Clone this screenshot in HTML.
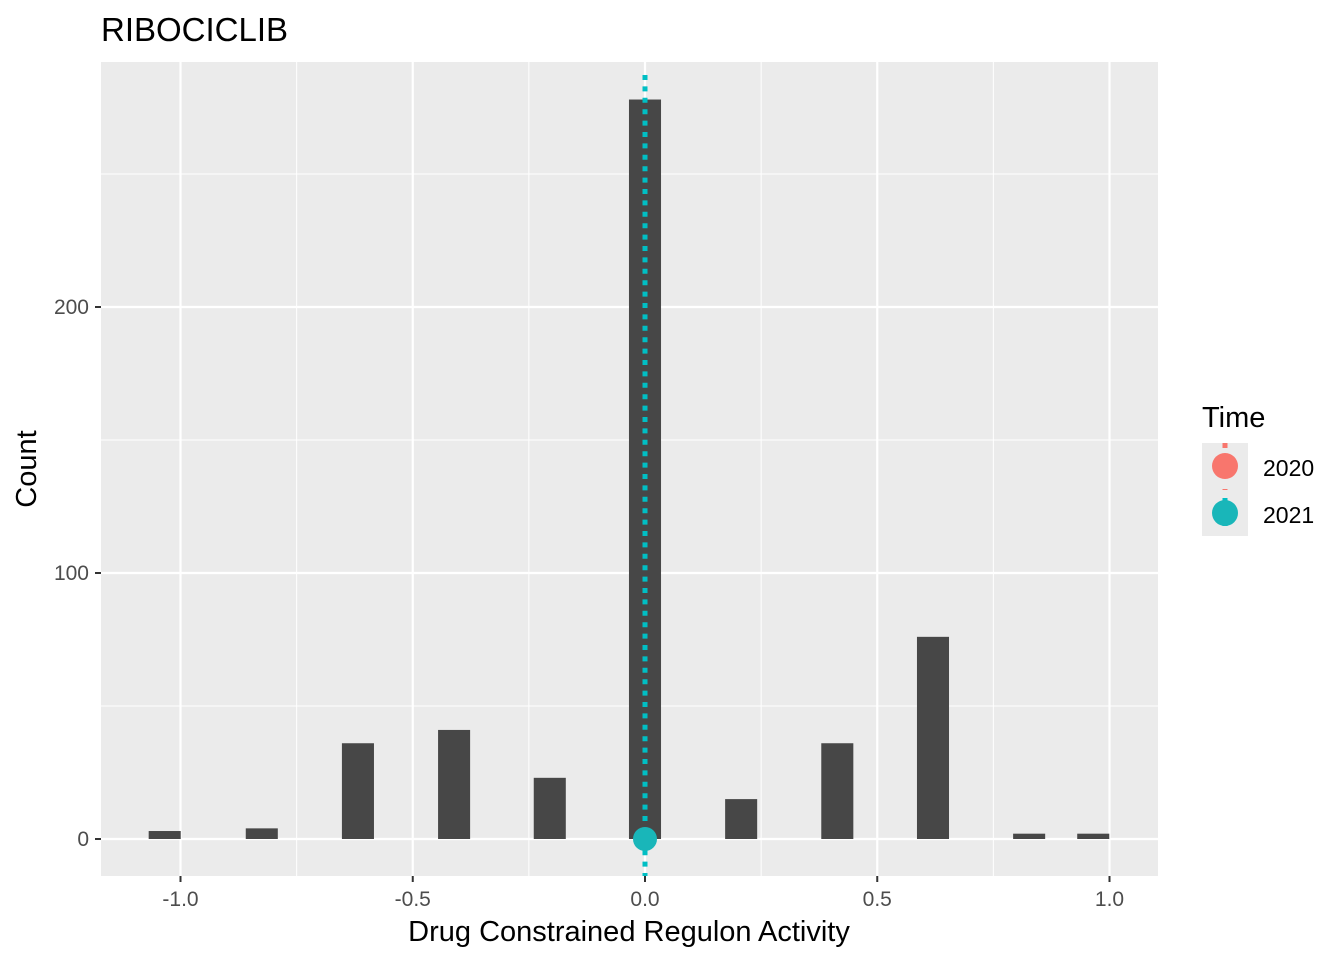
<!DOCTYPE html>
<html><head><meta charset="utf-8"><style>
body{margin:0;background:#fff;}
svg text{font-family:"Liberation Sans",Arial,sans-serif;}
</style></head><body>
<svg id="chart" width="1344" height="960" xmlns="http://www.w3.org/2000/svg">
<text x="101" y="41" font-size="33" fill="#000">RIBOCICLIB</text>
<rect x="101" y="62" width="1057" height="814" fill="#ebebeb"/>
<g id="grid"></g>
<g id="bars"></g>
<g id="overlay"></g>
<g id="axes"></g>
<text x="629" y="941" font-size="29" text-anchor="middle" fill="#000">Drug Constrained Regulon Activity</text>
<text transform="translate(36,469) rotate(-90)" font-size="29" text-anchor="middle" fill="#000">Count</text>
<g>
<text x="1202" y="427" font-size="29" fill="#000">Time</text>
<rect x="1202" y="443" width="46" height="93" fill="#ebebeb"/>
<g>
<line x1="1225" y1="443" x2="1225" y2="490" stroke="#f8766d" stroke-width="5" stroke-dasharray="5,18"/>
<circle cx="1225" cy="466" r="13" fill="#f8766d"/>
<text x="1263" y="476" font-size="23" fill="#000">2020</text></g>
<g>
<line x1="1225" y1="490" x2="1225" y2="536" stroke="#00bfc4" stroke-width="5" stroke-dasharray="5,18" stroke-dashoffset="-8"/>
<circle cx="1225" cy="513" r="13" fill="#19b6b9"/>
<text x="1263" y="523" font-size="23" fill="#000">2021</text></g>
</g>
</svg>
<script>
const binCenters=[-1.034,-0.825,-0.618,-0.411,-0.205,0.0,0.207,0.414,0.62,0.827,0.965];
const counts=[3,4,36,41,23,278,15,36,76,2,2];
const xTicks=[-1.0,-0.5,0.0,0.5,1.0];
const xTickLabels=["-1.0","-0.5","0.0","0.5","1.0"];
const yTicks=[0,100,200];
const yTickLabels=["0","100","200"];
const vlineValue=[0.0];
const pointX=[0.0];
const pointY=[0];
const binWidth=0.069;
const NS="http://www.w3.org/2000/svg";
const X=v=>645+v*464.5;
const Y=v=>839-v*2.66;
const L=62,R=1158,T=62,B=876;
function mk(tag,attrs,parent){const e=document.createElementNS(NS,tag);for(const k in attrs)e.setAttribute(k,attrs[k]);document.getElementById(parent).appendChild(e);return e;}
for(let i=0;i<xTicks.length-1;i++){const m=(xTicks[i]+xTicks[i+1])/2;
const g=mk('line',{x1:X(m),x2:X(m),y1:T,y2:B,stroke:'#fff','stroke-width':1},'grid');

}
[50,150,250].forEach(v=>{const g=mk('line',{x1:101,x2:R,y1:Y(v),y2:Y(v),stroke:'#fff','stroke-width':1},'grid');

});
xTicks.forEach(v=>{const g=mk('line',{x1:X(v),x2:X(v),y1:T,y2:B,stroke:'#fff','stroke-width':2.2},'grid');

});
yTicks.forEach(v=>{const g=mk('line',{x1:101,x2:R,y1:Y(v),y2:Y(v),stroke:'#fff','stroke-width':2.2},'grid');

});
binCenters.forEach((c,i)=>{const w=binWidth*464.5;
const r=mk('rect',{x:X(c)-w/2,y:Y(counts[i]),width:w,height:Y(0)-Y(counts[i]),fill:'#474747'},'bars');

});
vlineValue.forEach(v=>{const l=mk('line',{x1:X(v),x2:X(v),y1:T+13,y2:B,stroke:'#00bfc4','stroke-width':5,'stroke-dasharray':'5,6.4'},'overlay');

});
pointX.forEach((v,i)=>{const c=mk('circle',{cx:X(v),cy:Y(pointY[i]),r:12,fill:'#19b6b9'},'overlay');

});
xTicks.forEach((v,i)=>{const t=mk('line',{x1:X(v),x2:X(v),y1:B,y2:B+6,stroke:'#333','stroke-width':2},'axes');


const tx=mk('text',{x:X(v),y:906,'font-size':21,'text-anchor':'middle',fill:'#4d4d4d'},'axes');tx.textContent=xTickLabels[i];

});
yTicks.forEach((v,i)=>{const t=mk('line',{x1:95,x2:101,y1:Y(v),y2:Y(v),stroke:'#333','stroke-width':2},'axes');


const tx=mk('text',{x:89,y:Y(v)+7,'font-size':21,'text-anchor':'end',fill:'#4d4d4d'},'axes');tx.textContent=yTickLabels[i];

});
</script>
</body></html>
